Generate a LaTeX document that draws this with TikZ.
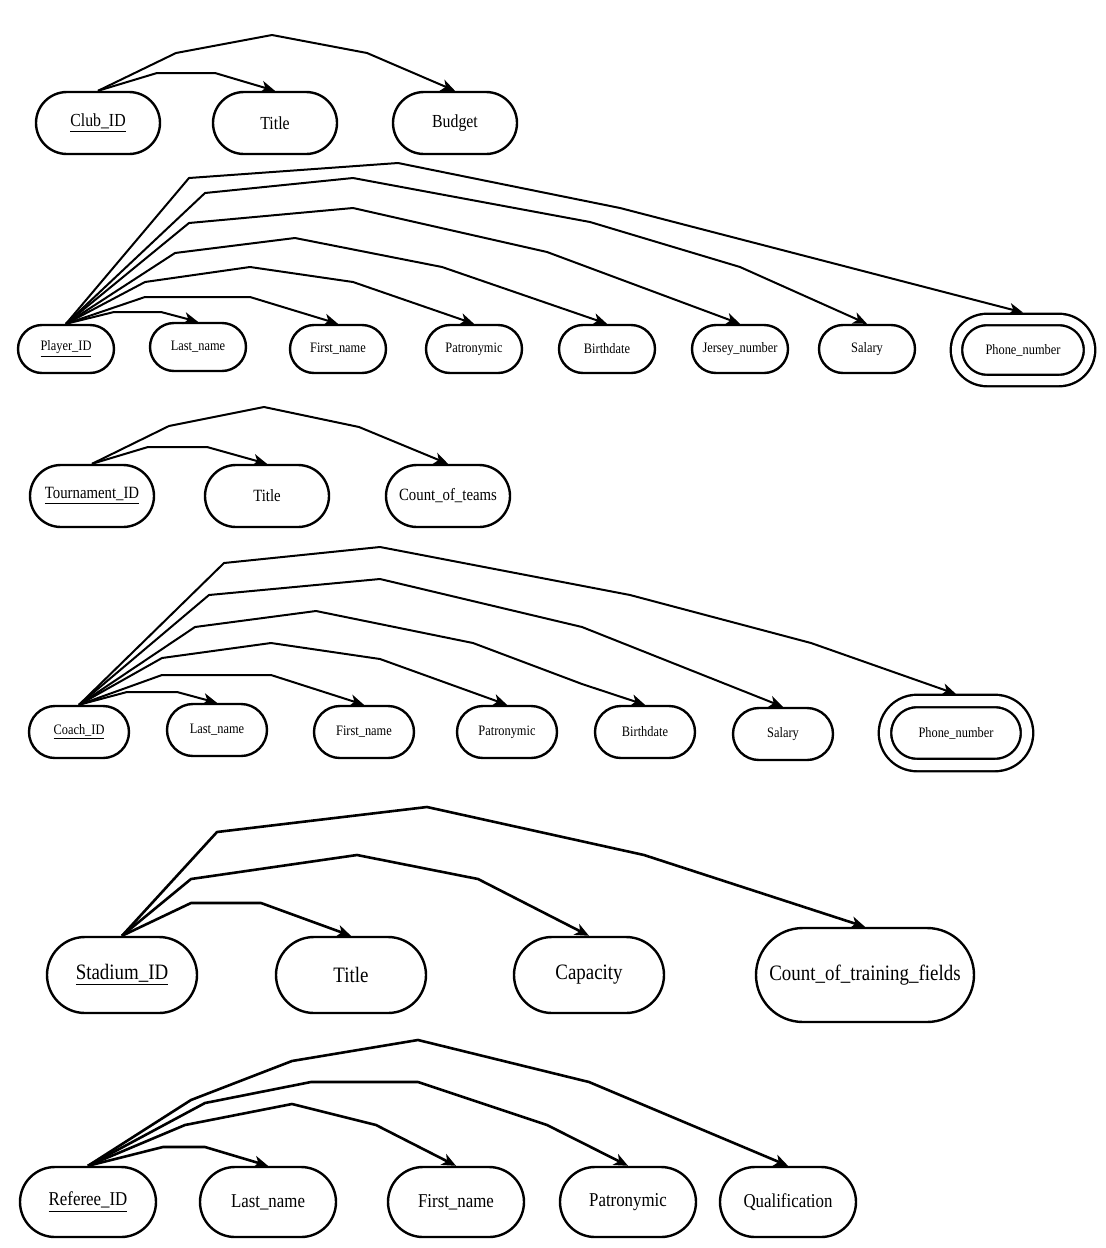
\documentclass[tikz,border=0pt]{standalone}
\usepackage{fontspec}
\setmainfont{Liberation Serif}[FakeStretch=0.86]
\usepackage{tikz}
\usetikzlibrary{shapes.misc,arrows.meta}

\begin{document}
\begin{tikzpicture}[x=0.5pt,y=-0.5pt,
    attr/.style={rounded rectangle, draw, line width=1.2pt, inner sep=0pt},
    multi/.style={attr, double, double distance=4.5pt, outer sep=3.5pt},
    link/.style={line width=1pt, line join=round, -{Stealth[length=7pt,width=6pt,inset=2pt]}}]
    \useasboundingbox (0,0) rectangle (1106,1248);

    % Club
    \begin{scope}[every node/.append style={font=\fontsize{9.2}{10}\selectfont, minimum width=62pt, minimum height=31pt}]
    \node[attr] (club) at (98,123) {\underline{Club\_ID}};
    \node[attr] (title1) at (275,123) {Title};
    \node[attr] (budget) at (455,123) {Budget};
    \end{scope}
    \draw[link] (club.north) -- (157,73) -- (215,73) -- (title1.north);
    \draw[link] (club.north) -- (176,53) -- (272,35) -- (367,53) -- (budget.north);

    % Player
    \begin{scope}[every node/.append style={font=\fontsize{7.2}{8}\selectfont, minimum width=48pt, minimum height=24pt}]
    \node[attr] (player) at (66,349) {\underline{Player\_ID}};
    \node[attr] (plast) at (198,347) {Last\_name};
    \node[attr] (pfirst) at (338,349) {First\_name};
    \node[attr] (ppatr) at (474,349) {Patronymic};
    \node[attr] (pbirth) at (607,349) {Birthdate};
    \node[attr] (pjersey) at (740,349) {Jersey\_number};
    \node[attr] (psalary) at (867,349) {Salary};
    \node[multi, minimum width=66.5pt, minimum height=30.5pt] (pphone) at (1023,350) {Phone\_number};
    \end{scope}
    \draw[link] (player.north) -- (114,312) -- (161,312) -- (plast.north);
    \draw[link] (player.north) -- (145,297) -- (250,297) -- (pfirst.north);
    \draw[link] (player.north) -- (145,282) -- (250,267) -- (353,282) -- (ppatr.north);
    \draw[link] (player.north) -- (175,253) -- (295,238) -- (442,267) -- (pbirth.north);
    \draw[link] (player.north) -- (189,223) -- (353,208) -- (547,252) -- (pjersey.north);
    \draw[link] (player.north) -- (205,193) -- (353,178) -- (590,222) -- (740,267) -- (psalary.north);
    \draw[link] (player.north) -- (189,178) -- (398,163) -- (620,208) -- (pphone.north);

    % Tournament
    \begin{scope}[every node/.append style={font=\fontsize{8.6}{10}\selectfont, minimum width=62pt, minimum height=31pt}]
    \node[attr] (tour) at (92,496) {\underline{Tournament\_ID}};
    \node[attr] (title3) at (267,496) {Title};
    \node[attr] (teams) at (448,496) {Count\_of\_teams};
    \end{scope}
    \draw[link] (tour.north) -- (148,447) -- (207,447) -- (title3.north);
    \draw[link] (tour.north) -- (169,426) -- (264,407) -- (359,427) -- (teams.north);

    % Coach
    \begin{scope}[every node/.append style={font=\fontsize{7.2}{8}\selectfont, minimum width=50pt, minimum height=26pt}]
    \node[attr] (coach) at (79,732) {\underline{Coach\_ID}};
    \node[attr] (clast) at (217,730) {Last\_name};
    \node[attr] (cfirst) at (364,732) {First\_name};
    \node[attr] (cpatr) at (507,732) {Patronymic};
    \node[attr] (cbirth) at (645,732) {Birthdate};
    \node[attr] (csalary) at (783,734) {Salary};
    \node[multi, double distance=5pt, minimum width=71pt, minimum height=32pt] (cphone) at (956,733) {Phone\_number};
    \end{scope}
    \draw[link] (coach.north) -- (127,692) -- (177,692) -- (clast.north);
    \draw[link] (coach.north) -- (162,675) -- (271,675) -- (cfirst.north);
    \draw[link] (coach.north) -- (162,658) -- (271,643) -- (380,659) -- (cpatr.north);
    \draw[link] (coach.north) -- (195,627) -- (316,611) -- (473,643) -- (582,684) -- (cbirth.north);
    \draw[link] (coach.north) -- (209,595) -- (380,579) -- (582,627) -- (csalary.north);
    \draw[link] (coach.north) -- (224,563) -- (380,547) -- (630,595) -- (811,643) -- (cphone.north);

    % Stadium
    \begin{scope}[every node/.append style={font=\fontsize{11}{12}\selectfont, minimum width=75pt, minimum height=38pt, line width=1.4pt},
                  link/.append style={line width=1.3pt}]
    \node[attr] (stad) at (122,975) {\underline{Stadium\_ID}};
    \node[attr] (title5) at (351,975) {Title};
    \node[attr] (cap) at (589,975) {Capacity};
    \node[attr, minimum width=109pt, minimum height=47pt] (fields) at (865,975) {Count\_of\_training\_fields};
    \draw[link] (stad.north) -- (191,903) -- (261,903) -- (title5.north);
    \draw[link] (stad.north) -- (191,879) -- (357,855) -- (478,879) -- (cap.north);
    \draw[link] (stad.north) -- (217,832) -- (427,807) -- (644,855) -- (fields.north);
    \end{scope}

    % Referee
    \begin{scope}[every node/.append style={font=\fontsize{9.8}{11}\selectfont, minimum width=68pt, minimum height=35pt, line width=1.4pt},
                  link/.append style={line width=1.3pt}]
    \node[attr] (ref) at (88,1202) {\underline{Referee\_ID}};
    \node[attr] (rlast) at (268,1202) {Last\_name};
    \node[attr] (rfirst) at (456,1202) {First\_name};
    \node[attr] (rpatr) at (628,1202) {Patronymic};
    \node[attr] (rqual) at (788,1202) {Qualification};
    \draw[link] (ref.north) -- (163,1147) -- (205,1147) -- (rlast.north);
    \draw[link] (ref.north) -- (185,1125) -- (292,1104) -- (376,1125) -- (rfirst.north);
    \draw[link] (ref.north) -- (205,1103) -- (311,1082) -- (418,1082) -- (547,1125) -- (rpatr.north);
    \draw[link] (ref.north) -- (191,1100) -- (292,1061) -- (418,1040) -- (589,1082) -- (rqual.north);
    \end{scope}
\end{tikzpicture}
\end{document}
